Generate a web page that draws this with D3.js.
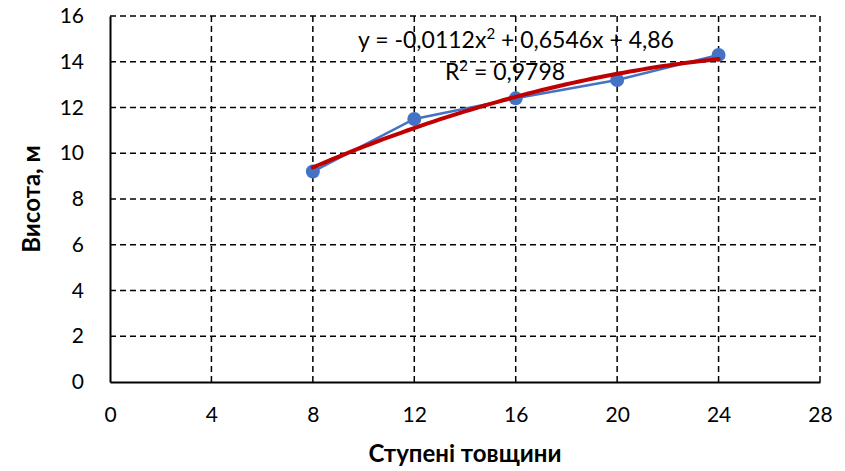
<!DOCTYPE html>
<html>
<head>
<meta charset="utf-8">
<script src="https://cdn.jsdelivr.net/npm/d3@7"></script>
<style>
  body { margin: 0; background: #fff; }
  svg { font-family: Lato, "Open Sans", sans-serif; }
</style>
</head>
<body>
<svg width="845" height="471"></svg>
<script>
// data
var xValues = [8, 12, 16, 20, 24];
var yValues = [9.2, 11.5, 12.4, 13.2, 14.3];
var trendCoef = [-0.0112, 0.6546, 4.86]; // a, b, c of the displayed trendline
var xTicks = [0, 4, 8, 12, 16, 20, 24, 28];
var yTicks = [0, 2, 4, 6, 8, 10, 12, 14, 16];
var eqText = "y = -0,0112x";
var eqRest = " + 0,6546x + 4,86";
var r2Text = "0,9798";

var margin = {top: 16, right: 25, bottom: 89, left: 110};
var width = 845 - margin.left - margin.right;
var height = 471 - margin.top - margin.bottom;

var svg = d3.select("svg");
var g = svg.append("g").attr("transform", "translate(" + margin.left + "," + margin.top + ")");

var x = d3.scaleLinear().domain([0, 28]).range([0, width]);
var y = d3.scaleLinear().domain([0, 16]).range([height, 0]);

// grid
g.selectAll(".vgrid").data(xTicks.slice(1)).enter().append("line")
    .attr("x1", function(d){ return x(d); }).attr("x2", function(d){ return x(d); })
    .attr("y1", 0).attr("y2", height)
    .attr("stroke", "#000").attr("stroke-width", 1.5).attr("stroke-dasharray", "6,4");
g.selectAll(".hgrid").data(yTicks.slice(1)).enter().append("line")
    .attr("x1", 0).attr("x2", width)
    .attr("y1", function(d){ return y(d); }).attr("y2", function(d){ return y(d); })
    .attr("stroke", "#000").attr("stroke-width", 1.5).attr("stroke-dasharray", "6,4");

// axes
var xAxis = g.append("g").attr("transform", "translate(0," + height + ")")
    .call(d3.axisBottom(x).tickValues(xTicks).tickSize(0).tickPadding(25));
var yAxis = g.append("g")
    .call(d3.axisLeft(y).tickValues(yTicks).tickSize(0).tickPadding(26));
[xAxis, yAxis].forEach(function(a){
    a.attr("font-size", null).attr("font-family", null);
    a.select(".domain").attr("stroke", "#000").attr("stroke-width", 2);
    a.selectAll("text").style("font-size", "21px").attr("fill", "#000");
});

// series
var line = d3.line().x(function(d, i){ return x(xValues[i]); }).y(function(d){ return y(d); });
g.append("path").datum(yValues).attr("d", line)
    .attr("fill", "none").attr("stroke", "#4472C4").attr("stroke-width", 2.5);
g.selectAll(".pt").data(yValues).enter().append("circle")
    .attr("cx", function(d, i){ return x(xValues[i]); })
    .attr("cy", function(d){ return y(d); })
    .attr("r", 7).attr("fill", "#4472C4");

// trendline
var trendX = d3.range(xValues[0], xValues[xValues.length - 1] + 0.01, 0.25);
var trend = d3.line()
    .x(function(d){ return x(d); })
    .y(function(d){ return y(trendCoef[0] * d * d + trendCoef[1] * d + trendCoef[2]); });
g.append("path").datum(trendX).attr("d", trend)
    .attr("fill", "none").attr("stroke", "#C00000").attr("stroke-width", 4).attr("stroke-linecap", "round");

// equation labels
var eq = svg.append("text").attr("x", 516).attr("y", 48).attr("text-anchor", "middle")
    .style("font-size", "23px").attr("fill", "#000");
eq.append("tspan").text(eqText);
eq.append("tspan").text("2").style("font-size", "15px").attr("dy", -9);
eq.append("tspan").text(eqRest).attr("dy", 9);
var r2 = svg.append("text").attr("x", 505).attr("y", 80).attr("text-anchor", "middle")
    .style("font-size", "23px").attr("fill", "#000");
r2.append("tspan").text("R");
r2.append("tspan").text("2").style("font-size", "15px").attr("dy", -9);
r2.append("tspan").text(" = " + r2Text).attr("dy", 9);

// axis titles
svg.append("text").attr("transform", "translate(465,462)")
    .attr("text-anchor", "middle").style("font-size", "24px").attr("font-weight", "bold")
    .text("Ступені товщини");
svg.append("text").attr("transform", "translate(40,199) rotate(-90)")
    .attr("text-anchor", "middle").style("font-size", "24px").attr("font-weight", "bold")
    .text("Висота, м");
</script>
</body>
</html>
